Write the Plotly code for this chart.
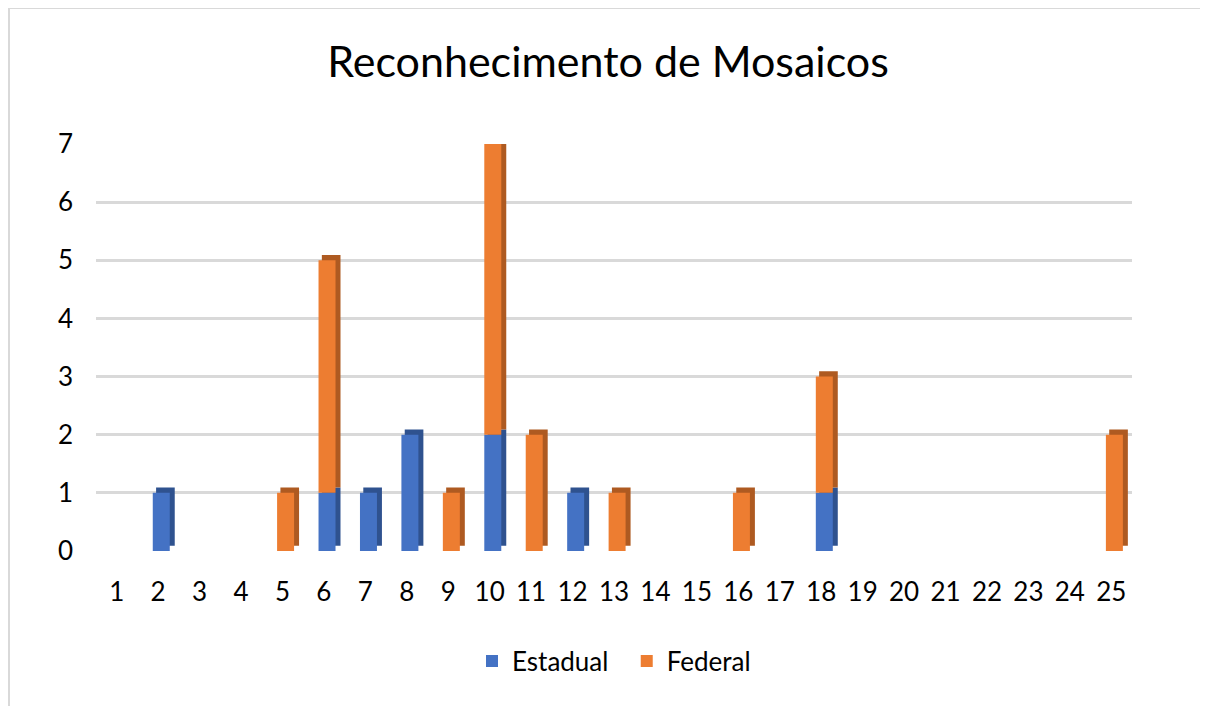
import plotly.graph_objects as go

categories = list(range(1, 26))
estadual = [0, 1, 0, 0, 0, 1, 1, 2, 0, 2, 0, 1, 0, 0, 0, 0, 0, 1, 0, 0, 0, 0, 0, 0, 0]
federal = [0, 0, 0, 0, 1, 4, 0, 0, 1, 5, 2, 0, 1, 0, 0, 1, 0, 2, 0, 0, 0, 0, 0, 0, 2]
tick_labels = [str(c) for c in categories]

BLUE, BLUE_D = "#4472C4", "#2F528F"
ORANGE, ORANGE_D = "#ED7D31", "#AE5A21"
DEPTH = 0.09  # visual 3D depth offset in data units

def nz(v):
    return [x if x else None for x in v]

est_v = nz(estadual)
fed_v = nz(federal)
fed_base = list(estadual)

fig = go.Figure()
# darker "depth" faces (drawn behind)
fig.add_trace(go.Bar(x=categories, y=est_v, base=[DEPTH] * 25, width=0.45, offset=-0.05, cliponaxis=False,
                     marker=dict(color=BLUE_D, line=dict(width=0)), showlegend=False, hoverinfo="skip"))
fig.add_trace(go.Bar(x=categories, y=fed_v, base=[b + DEPTH for b in fed_base], width=0.45, offset=-0.05,
                     cliponaxis=False,
                     marker=dict(color=ORANGE_D, line=dict(width=0)), showlegend=False, hoverinfo="skip"))
# front faces
fig.add_trace(go.Bar(x=categories, y=est_v, base=[0] * 25, width=0.41, offset=-0.13, name="Estadual  ",
                     cliponaxis=False, marker=dict(color=BLUE, line=dict(width=0))))
fig.add_trace(go.Bar(x=categories, y=fed_v, base=fed_base, width=0.41, offset=-0.13, name="Federal",
                     cliponaxis=False, marker=dict(color=ORANGE, line=dict(width=0))))

# page body has an 8px margin, so figure coords = window coords - 8
W, H = 1200, 698
PL, PR, PT, PB = 88, 1124, 136, 543

FONT = "Lato"
fig.update_layout(
    width=W, height=H,
    paper_bgcolor="white", plot_bgcolor="white",
    barmode="overlay",
    margin=dict(l=PL, r=W - PR, t=PT, b=H - PB, autoexpand=False),
    title=dict(text="Reconhecimento de Mosaicos", x=0.5, xanchor="center", y=1 - 54 / H, yanchor="middle",
               font=dict(family=FONT, size=43, color="#000000")),
    font=dict(family=FONT, color="#000000"),
    showlegend=True,
    legend=dict(orientation="h", x=0.5, xanchor="center", y=-(653 - PB) / (PB - PT), yanchor="middle",
                font=dict(family=FONT, size=26, color="#000000"), itemwidth=30, traceorder="normal"),
    xaxis=dict(tickmode="array", tickvals=categories, ticktext=tick_labels, range=[0.5, 25.5],
               showgrid=False, zeroline=False, showline=False, ticks="", automargin=False,
               tickfont=dict(family=FONT, size=26, color="#000000"), ticklabelstandoff=23),
    yaxis=dict(range=[0, 7.0], tickmode="array", tickvals=list(range(0, 8)), automargin=False,
               showgrid=True, gridcolor="#D9D9D9", gridwidth=3, zeroline=False, showline=False, ticks="",
               tickfont=dict(family=FONT, size=26, color="#000000"), ticklabelstandoff=22),
    shapes=[dict(type="rect", xref="paper", yref="paper", x0=(1 - PL) / (PR - PL), x1=(1198 - PL) / (PR - PL),
                 y0=-(H + 10 - PB) / (PB - PT), y1=1 + (PT - 0) / (PB - PT),
                 line=dict(color="#D9D9D9", width=2), fillcolor="rgba(0,0,0,0)", layer="below")],
)

fig.write_html("out.html")
